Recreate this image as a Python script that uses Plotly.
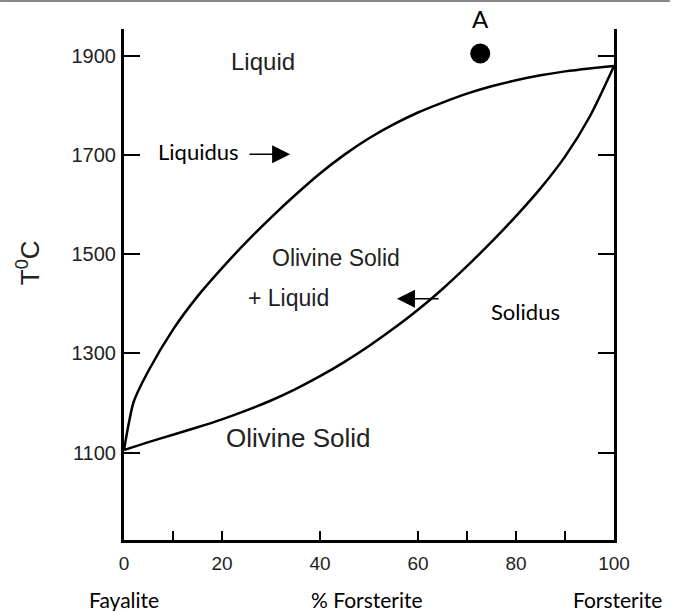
import plotly.graph_objects as go

# ---- data ----
composition = [0, 1, 2, 5, 10, 15, 20, 25, 30, 35, 40, 45, 50, 55, 60, 65, 70, 75, 80, 85, 90, 95, 100]
liquidus_T = [1105, 1160, 1203, 1265, 1348, 1415, 1472, 1525, 1574, 1620, 1663, 1701, 1734, 1762, 1786,
              1806, 1824, 1839, 1851, 1861, 1869, 1875, 1880]
solidus_comp = [0, 5, 10, 15, 20, 25, 30, 35, 40, 45, 50, 55, 60, 65, 70, 75, 80, 85, 90, 95, 100]
solidus_T = [1105, 1121, 1136, 1151, 1167, 1185, 1205, 1228, 1254, 1283, 1315, 1350, 1388, 1430, 1476,
             1525, 1577, 1633, 1697, 1777, 1880]
point_A = (72.7, 1905)

y_ticks = [1100, 1300, 1500, 1700, 1900]
x_ticks = [0, 20, 40, 60, 80, 100]
x_minor_ticks = [10, 70, 90]

ARIAL = "Arial, Liberation Sans, sans-serif"
CALIBRI = "Lato, Carlito, Calibri, sans-serif"

fig = go.Figure()
fig.add_trace(go.Scatter(x=composition, y=liquidus_T, mode="lines",
                         line=dict(color="black", width=2.5, shape="spline", smoothing=0.8),
                         hoverinfo="skip"))
fig.add_trace(go.Scatter(x=solidus_comp, y=solidus_T, mode="lines",
                         line=dict(color="black", width=2.5, shape="spline", smoothing=0.8),
                         hoverinfo="skip"))
fig.add_trace(go.Scatter(x=[point_A[0]], y=[point_A[1]], mode="markers",
                         marker=dict(color="black", size=20), hoverinfo="skip", cliponaxis=False))

ann = []
def txt(x, y, s, size, family=ARIAL, color="#222", xref="x", yref="y", **kw):
    ann.append(dict(x=x, y=y, text=s, xref=xref, yref=yref, showarrow=False,
                    xanchor="center", yanchor="middle",
                    font=dict(size=size, family=family, color=color), **kw))

txt(28.4, 1888, "Liquid", 24)
txt(72.8, 1.0196, "A", 24, family=CALIBRI, color="black", yref="paper")
txt(15.2, 1707, "Liquidus", 22, family=CALIBRI, color="black")
txt(43.2, 1492, "Olivine Solid", 23)
txt(33.6, 1411, "+ Liquid", 23)
txt(82.0, 1384, "Solidus", 22, family=CALIBRI, color="black")
txt(35.6, 1130, "Olivine Solid", 26)
txt(-0.196, 1484, "T<sup>0</sup>C", 26, xref="paper", textangle=-90)
txt(0, -0.1155, "Fayalite", 21, family=CALIBRI, color="black", yref="paper")
txt(49.6, -0.1155, "% Forsterite", 21, family=CALIBRI, color="black", yref="paper")
txt(1.008, -0.1155, "Forsterite", 21, family=CALIBRI, color="black", xref="paper", yref="paper")

# arrows
ann.append(dict(x=33.9, y=1702, ax=25.3, ay=1702, xref="x", yref="y", axref="x", ayref="y",
                text="", showarrow=True, arrowhead=2, arrowsize=2.4, arrowwidth=1.5, arrowcolor="black"))
ann.append(dict(x=55.7, y=1410, ax=64.5, ay=1410, xref="x", yref="y", axref="x", ayref="y",
                text="", showarrow=True, arrowhead=2, arrowsize=2.4, arrowwidth=1.5, arrowcolor="black"))

fig.update_layout(
    width=678, height=611, autosize=False,
    margin=dict(l=124, r=64, t=29, b=71),
    plot_bgcolor="white", paper_bgcolor="white",
    showlegend=False,
    annotations=ann,
    shapes=[dict(type="line", xref="paper", yref="paper", x0=-0.253, x1=1.114, y0=1.0548, y1=1.0548,
                 line=dict(color="#888", width=2))],
)
fig.update_xaxes(range=[0, 100], showgrid=False, zeroline=False, showline=True, linecolor="black",
                 linewidth=3, mirror=False, ticks="inside", ticklen=9, tickwidth=2, tickcolor="black",
                 tickvals=x_ticks, ticklabelstandoff=4,
                 minor=dict(tickvals=x_minor_ticks, ticks="inside", ticklen=9, tickwidth=2,
                            tickcolor="black", showgrid=False),
                 tickfont=dict(size=19, family=ARIAL, color="#222"))
fig.update_yaxes(range=[923.5, 1954.5], showgrid=False, zeroline=False, showline=True, linecolor="black",
                 linewidth=3, mirror="ticks", ticks="inside", ticklen=16, tickwidth=2, tickcolor="black",
                 tickvals=y_ticks, ticklabelstandoff=1,
                 tickfont=dict(size=20, family=ARIAL, color="#222"))

fig.write_html("out.html", config={"displayModeBar": False},
               post_script="document.body.style.margin='0';")
